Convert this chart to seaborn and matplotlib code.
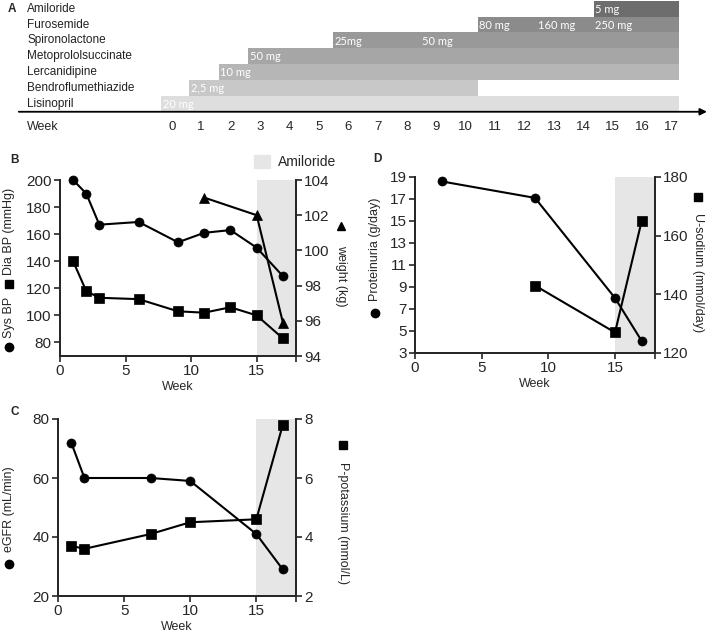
import seaborn as sns
import matplotlib.pyplot as plt
from matplotlib.lines import Line2D
from matplotlib.patches import Patch

# Panel A: treatment timeline (weeks)
drugs = ['Lisinopril', 'Bendroflumethiazide', 'Lercanidipine', 'Metoprololsuccinate',
         'Spironolactone', 'Furosemide', 'Amiloride']
drug_start = [-0.35, 0.6, 1.6, 2.6, 5.5, 10.4, 14.35]
drug_end = [17.25, 10.4, 17.25, 17.25, 17.25, 17.25, 17.25]
dose_drug = ['Lisinopril', 'Bendroflumethiazide', 'Lercanidipine', 'Metoprololsuccinate',
             'Spironolactone', 'Spironolactone', 'Furosemide', 'Furosemide', 'Furosemide',
             'Amiloride']
dose_week = [-0.3, 0.65, 1.65, 2.65, 5.55, 8.5, 10.45, 12.45, 14.4, 14.4]
dose_text = ['20 mg', '2,5 mg', '10 mg', '50 mg', '25mg', '50 mg', '80 mg', '160 mg',
             '250 mg', '5 mg']
timeline_weeks = list(range(18))

# Panel B: blood pressure and weight
bp_week = [1, 2, 3, 6, 9, 11, 13, 15, 17]
sys_bp = [200, 190, 167, 169, 154, 161, 163, 150, 129]
dia_bp = [140, 118, 113, 112, 103, 102, 106, 100, 83]
weight_week = [11, 15, 17]
weight = [103, 102, 95.9]

# Panel C: eGFR and potassium
egfr_week = [1, 2, 7, 10, 15, 17]
egfr = [72, 60, 60, 59, 41, 29]
potassium = [3.7, 3.6, 4.1, 4.5, 4.6, 7.8]

# Panel D: proteinuria and urine sodium
prot_week = [2, 9, 15, 17]
proteinuria = [18.6, 17.1, 8.0, 4.1]
sodium_week = [9, 15, 17]
u_sodium = [143, 127, 165]

amiloride_period = (15, 18)

W, H = 709, 638
SHADE = '#e6e6e6'


def box(l, t, r, b):
    """ Pixel box -> figure fraction rect. """
    return [l / W, 1 - b / H, (r - l) / W, (b - t) / H]


def style_axis(ax, labelsize=11):
    ax.tick_params(direction='out', length=4, width=1.2, labelsize=labelsize, pad=2)
    for side in ['left', 'right', 'bottom']:
        ax.spines[side].set_linewidth(1.3)
    ax.spines['top'].set_visible(False)


def draw_line(ax, x, y, marker):
    sns.lineplot(x=x, y=y, ax=ax, color='k', lw=1.5, marker=marker, markersize=6.5,
                 markeredgecolor='k', markeredgewidth=0.5, clip_on=False)


def twin_panel(rect, x1, y1, m1, ylim1, yticks1, x2, y2, m2, ylim2, yticks2, xticks):
    ax = fig.add_axes(rect)
    ax.axvspan(*amiloride_period, color=SHADE, lw=0, zorder=0)
    draw_line(ax, x1, y1, m1)
    ax2 = ax.twinx()
    draw_line(ax2, x2, y2, m2)
    ax.set_xlim(0, 18)
    ax.set_ylim(*ylim1)
    ax.set_yticks(yticks1)
    ax2.set_ylim(*ylim2)
    ax2.set_yticks(yticks2)
    ax.set_xticks(xticks)
    ax.set_xticklabels([str(t) for t in xticks[:-1]] + [''])
    ax.set_xlabel('Week', fontsize=9, labelpad=2)
    style_axis(ax)
    style_axis(ax2)
    return ax, ax2


def side_label(x, y, text, rotation):
    fig.text(x / W, 1 - y / H, text, rotation=rotation, fontsize=9, ha='center',
             va='center')


def label_marker(x, y, marker):
    fig.add_artist(Line2D([x / W], [1 - y / H], marker=marker, markersize=6,
                          color='k', transform=fig.transFigure))


sns.set_style('ticks')
plt.rcParams['font.family'] = ['Liberation Sans', 'DejaVu Sans']

fig = plt.figure(figsize=(W / 100, H / 100), dpi=100)

# ---- A ----
axA = fig.add_axes(box(0, 0, 709, 135))
bar_colors = ['#dedede', '#c8c8c8', '#b6b6b6', '#a6a6a6', '#999999', '#8b8b8b', '#6d6d6d']
rows = list(range(len(drugs)))
axA.barh(rows, [e - s for s, e in zip(drug_start, drug_end)], left=drug_start,
         height=1.0, color=bar_colors, edgecolor='none')
for r, name in zip(rows, drugs):
    axA.text(-4.92, r, name, ha='left', va='center', fontsize=8.5, color='#222222')
for d, w, t in zip(dose_drug, dose_week, dose_text):
    axA.text(w, drugs.index(d) - 0.05, t, ha='left', va='center', fontsize=8,
             color='white', family=['Lato', 'DejaVu Sans'])
for w in timeline_weeks:
    axA.text(w, -1.5, str(w), ha='center', va='center', fontsize=9.5)
axA.text(-4.92, -1.5, 'Week', ha='left', va='center', fontsize=9)
axA.annotate('', xy=(18.2, -0.52), xytext=(-5.2, -0.52),
             arrowprops=dict(arrowstyle='-|>', lw=1.3, color='k', mutation_scale=10,
                             shrinkA=0, shrinkB=0))
axA.set_xlim(-5.84, 18.27)
axA.set_ylim(-1.99, 6.55)
axA.axis('off')

# ---- B ----
axB, axB2 = twin_panel(box(60, 180, 296, 356),
                       bp_week, sys_bp, 'o', (70, 200), range(80, 201, 20),
                       weight_week, weight, '^', (94, 104), range(94, 105, 2),
                       [0, 5, 10, 15, 18])
draw_line(axB, bp_week, dia_bp, 's')
axB.set_xlim(0, 18)
axB.set_ylim(70, 200)
axB.legend(handles=[Patch(color=SHADE, label='Amiloride')], loc='lower right',
           bbox_to_anchor=(1.17, 1.06), frameon=False, fontsize=10, borderpad=0,
           borderaxespad=0, handlelength=1.1, handleheight=1.1, handletextpad=0.6)

# ---- C ----
axC, axC2 = twin_panel(box(58, 419, 296, 596),
                       egfr_week, egfr, 'o', (20, 80), range(20, 81, 20),
                       egfr_week, potassium, 's', (2, 8), range(2, 9, 2),
                       [0, 5, 10, 15, 18])

# ---- D ----
axD, axD2 = twin_panel(box(415, 177, 655, 353),
                       prot_week, proteinuria, 'o', (3, 19), range(3, 20, 2),
                       sodium_week, u_sodium, 's', (120, 180), range(120, 181, 20),
                       [0, 5, 10, 15, 18])

# axis titles, with the series symbol drawn as a marker
side_label(9, 317, 'Sys BP', 90)
label_marker(9, 347, 'o')
side_label(9, 231, 'Dia BP (mmHg)', 90)
label_marker(9, 284, 's')
side_label(341, 276, 'weight (kg)', 270)
label_marker(341, 226, '^')
side_label(9, 509, 'eGFR (mL/min)', 90)
label_marker(9, 564, 'o')
side_label(343, 523, 'P-potassium (mmol/L)', 270)
label_marker(343, 445, 's')
side_label(375, 249, 'Proteinuria (g/day)', 90)
label_marker(375, 313, 'o')
side_label(698, 273, 'U-sodium (mmol/day)', 270)
label_marker(698, 197, 's')

# panel letters
for letter, x, y in [('A', 12, 9), ('B', 15, 160), ('C', 15, 412), ('D', 377, 159)]:
    fig.text(x / W, 1 - y / H, letter, fontsize=8.5, fontweight='bold', ha='center',
             va='center')

fig.savefig('out.png', dpi=100)
